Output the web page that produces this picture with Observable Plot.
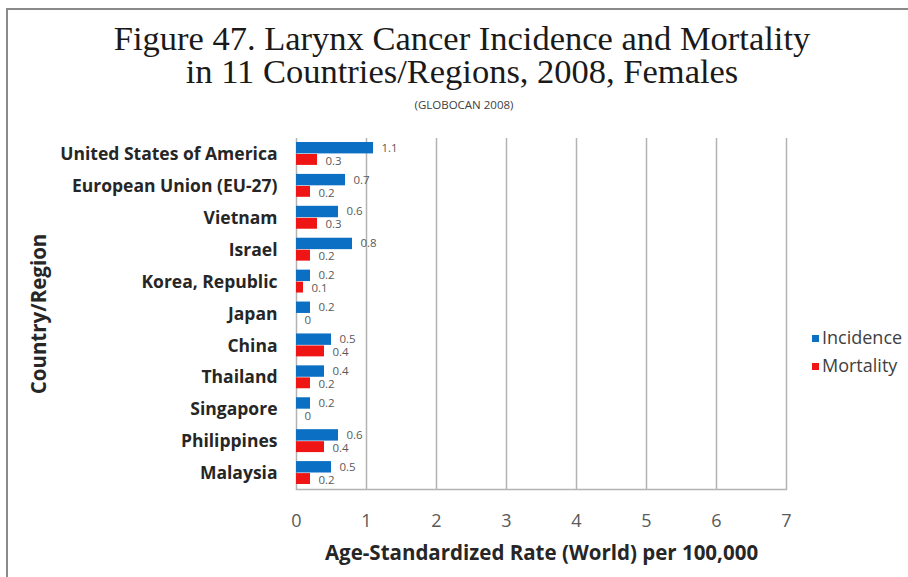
<!DOCTYPE html>
<html>
<head>
<meta charset="utf-8">
<script src="https://cdn.jsdelivr.net/npm/d3@7"></script>
<script src="https://cdn.jsdelivr.net/npm/@observablehq/plot@0.6"></script>
<style>
  html, body { margin: 0; padding: 0; background: #fff; }
  #page { position: relative; width: 908px; height: 577px; overflow: hidden; background: #fff; }
  #border { position: absolute; left: 6px; top: 8px; width: 920px; height: 600px;
            border-top: 2px solid #8a8a8a; border-left: 2px solid #8a8a8a; }
  #title { position: absolute; left: 0; top: 22px; width: 924px; text-align: center; line-height: 33px;
           font-family: "Liberation Serif", "Times New Roman", serif; font-size: 34.5px; color: #1a1a1a;
           white-space: nowrap; }
  #sub { position: absolute; left: 0; width: 928px; text-align: center; top: 97px; line-height: 16px;
         font-family: "Open Sans", sans-serif; font-size: 11.5px; color: #404040; }
  #chart { position: absolute; left: 0; top: 130px; }
  .leg { position: absolute; left: 812px; font-family: "Open Sans", sans-serif; font-size: 18px; line-height: 22px;
         color: #404040; white-space: nowrap; }
  .sw { display: inline-block; width: 7px; height: 7px; margin-right: 3px; vertical-align: 2px; }
</style>
</head>
<body>
<div id="page">
  <div id="border"></div>
  <div id="title">Figure 47. Larynx Cancer Incidence and Mortality<br>in 11 Countries/Regions, 2008, Females</div>
  <div id="sub">(GLOBOCAN 2008)</div>
  <div id="chart"></div>
  <div class="leg" style="top:326px"><span class="sw" style="background:#0B6FC3"></span>Incidence</div>
  <div class="leg" style="top:354px"><span class="sw" style="background:#F01515"></span>Mortality</div>
</div>
<script>
const countries = ["United States of America", "European Union (EU-27)", "Vietnam", "Israel", "Korea, Republic", "Japan", "China", "Thailand", "Singapore", "Philippines", "Malaysia"];
const incidence = [1.1, 0.7, 0.6, 0.8, 0.2, 0.2, 0.5, 0.4, 0.2, 0.6, 0.5];
const mortality = [0.3, 0.2, 0.3, 0.2, 0.1, 0, 0.4, 0.2, 0, 0.4, 0.2];
const xTicks = [0, 1, 2, 3, 4, 5, 6, 7];

const inc = countries.map((c, i) => ({country: c, value: incidence[i]}));
const mor = countries.map((c, i) => ({country: c, value: mortality[i]}));

const chart = Plot.plot({
  width: 908,
  height: 447,
  marginLeft: 296,
  marginRight: 122,
  marginTop: 8,
  marginBottom: 88,
  style: {fontFamily: "'Open Sans', sans-serif", background: "transparent"},
  x: {domain: [0, 7]},
  y: {domain: countries, padding: 0, round: false},
  marks: [
    Plot.gridX(xTicks, {stroke: "#b3b3b3", strokeOpacity: 1, strokeWidth: 1.5}),
    Plot.frame({anchor: "bottom", stroke: "#b3b3b3", strokeWidth: 1.5}),
    Plot.barX(inc, {x: "value", y: "country", fill: "#0B6FC3", insetTop: 4, insetBottom: 16.5}),
    Plot.barX(mor, {x: "value", y: "country", fill: "#F01515", insetTop: 16, insetBottom: 5}),
    Plot.text(inc, {x: "value", y: "country", text: d => String(d.value), dx: 8, dy: -6.5, textAnchor: "start", fontSize: 11.5, fill: "#595959"}),
    Plot.text(mor, {x: "value", y: "country", text: d => String(d.value), dx: 8, dy: 6.5, textAnchor: "start", fontSize: 11.5, fill: "#595959"}),
    Plot.axisX(xTicks, {tickSize: 0, tickPadding: 25, fontSize: 18, fill: "#595959",
      label: "Age-Standardized Rate (World) per 100,000", labelAnchor: "center", labelOffset: 70, labelArrow: "none"}),
    Plot.axisY({tickSize: 0, tickPadding: 19, fontSize: 17.5, fontWeight: "bold", fill: "#262626",
      label: "Country/Region", labelAnchor: "center", labelOffset: 265, labelArrow: "none"})
  ]
});
document.getElementById("chart").appendChild(chart);
// style axis titles
chart.querySelectorAll('[aria-label="x-axis label"] text, [aria-label="y-axis label"] text').forEach(t => {
  t.setAttribute("font-size", "20.5");
  t.setAttribute("font-weight", "bold");
  t.setAttribute("fill", "#262626");
});
</script>
</body>
</html>
